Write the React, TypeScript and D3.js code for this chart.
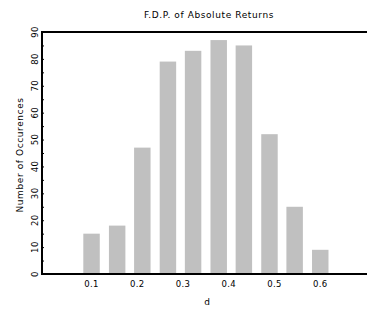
import React, { useEffect, useRef } from "react";
import * as d3 from "d3";

const width = 368;
const height = 311;
const margin = { left: 42, top: 32, right: 1, bottom: 37 };

// bin centres (d) and counts
const binCenters = [0.1, 0.156, 0.211, 0.267, 0.322, 0.378, 0.433, 0.489, 0.544, 0.6];
const counts = [15, 18, 47, 79, 83, 87, 85, 52, 25, 9];
const xTicks = [0.1, 0.2, 0.3, 0.4, 0.5, 0.6];
const yTicks = [0, 10, 20, 30, 40, 50, 60, 70, 80, 90];

const title = "F.D.P. of Absolute Returns";
const xLabel = "d";
const yLabel = "Number of Occurences";

const font = "DejaVu Sans, sans-serif";

export default function App() {
  const ref = useRef<SVGSVGElement>(null);

  useEffect(() => {
    const svg = d3.select(ref.current);
    svg.selectAll("*").remove();

    const x = d3.scaleLinear().domain([0, 0.7]).range([45.8, 366]);
    const y = d3
      .scaleLinear()
      .domain([0, 90])
      .range([height - margin.bottom, margin.top]);
    const barW = x(0.036) - x(0);

    // bars
    svg
      .append("g")
      .selectAll("rect")
      .data(counts)
      .enter()
      .append("rect")
      .attr("x", (d, i) => x(binCenters[i]) - barW / 2)
      .attr("y", d => y(d))
      .attr("width", barW)
      .attr("height", d => y(0) - y(d))
      .attr("fill", "#c0c0c0");

    // axis lines
    const x0 = margin.left;
    const x1 = width - margin.right;
    svg
      .append("path")
      .attr("d", `M${x1},${y(90)}H${x0}V${y(0)}H${x1}`)
      .attr("fill", "none")
      .attr("stroke", "#000")
      .attr("stroke-width", 2);

    // y ticks (inside), majors + minors
    const yAxis = d3
      .axisRight(y)
      .tickValues(d3.range(0, 91, 5))
      .tickSize(2)
      .tickFormat(() => "");
    const yg = svg.append("g").attr("transform", `translate(${x0},0)`).call(yAxis);
    yg.select(".domain").remove();
    yg.selectAll("line").attr("stroke-width", 1);

    // y tick labels, rotated
    svg
      .append("g")
      .selectAll("text")
      .data(yTicks)
      .enter()
      .append("text")
      .attr("transform", d => `translate(38,${y(d)}) rotate(-90)`)
      .attr("text-anchor", "middle")
      .attr("font-family", font)
      .attr("font-size", 8.5)
      .attr("letter-spacing", 0.4)
      .text(d => d);

    // x tick labels
    svg
      .append("g")
      .selectAll("text")
      .data(xTicks)
      .enter()
      .append("text")
      .attr("x", d => x(d))
      .attr("y", 287)
      .attr("text-anchor", "middle")
      .attr("font-family", font)
      .attr("font-size", 8.5)
      .attr("letter-spacing", 0.4)
      .text(d => d3.format(".1f")(d));

    // titles
    svg
      .append("text")
      .attr("x", 209)
      .attr("y", 18)
      .attr("text-anchor", "middle")
      .attr("font-family", font)
      .attr("font-size", 9)
      .attr("letter-spacing", 0.6)
      .text(title);

    svg
      .append("text")
      .attr("x", 207)
      .attr("y", 305)
      .attr("text-anchor", "middle")
      .attr("font-family", font)
      .attr("font-size", 9)
      .text(xLabel);

    svg
      .append("text")
      .attr("transform", `translate(23,155) rotate(-90)`)
      .attr("text-anchor", "middle")
      .attr("font-family", font)
      .attr("font-size", 9)
      .attr("letter-spacing", 0.6)
      .text(yLabel);
  }, []);

  return (
    <svg
      ref={ref}
      width={width}
      height={height}
      style={{ position: "absolute", left: 0, top: 0, background: "#fff" }}
    />
  );
}
